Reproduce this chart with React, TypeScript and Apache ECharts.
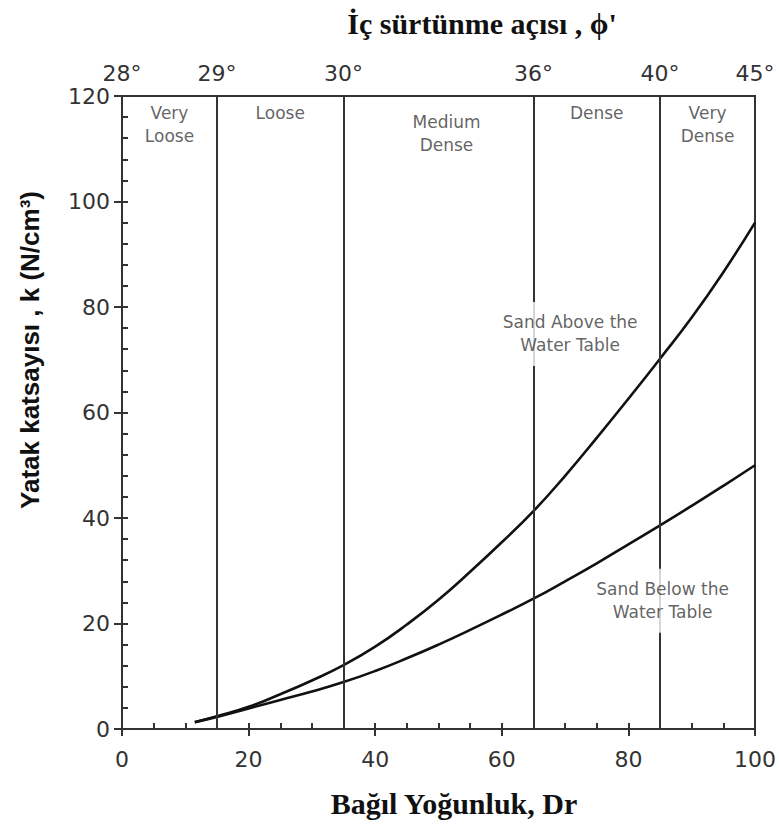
import React, { useEffect, useRef } from "react";
import * as echarts from "echarts";

// Relative density Dr (%) at which the curves were read
const dr = [11.5, 15, 20, 25, 30, 35, 40, 45, 50, 55, 60, 65, 70, 75, 80, 85, 90, 95, 100];
// Subgrade modulus k (N/cm3)
const kAbove = [1.3, 2.4, 4.2, 6.6, 9.2, 12.1, 15.6, 19.8, 24.5, 29.8, 35.4, 41.3, 48.0, 55.2, 62.6, 70.2, 78.0, 86.6, 96.0];
const kBelow = [1.3, 2.3, 3.9, 5.5, 7.1, 8.9, 11.0, 13.4, 16.0, 18.8, 21.7, 24.7, 28.0, 31.4, 35.0, 38.6, 42.3, 46.1, 50.0];

// Density class boundaries (Dr) and names
const zoneEdges = [0, 15, 35, 65, 85, 100];
const zoneNames = ["Very\nLoose", "Loose", "Medium\nDense", "Dense", "Very\nDense"];

// Friction angle labels on the top axis
const phiPositions = [0, 15, 35, 65, 85, 100];
const phiLabels = ["28°", "29°", "30°", "36°", "40°", "45°"];

// Curve annotations [Dr, k, text]
const curveNotes: [number, number, string][] = [
  [70.8, 74.9, "Sand Above the\nWater Table"],
  [85.4, 24.3, "Sand Below the\nWater Table"],
];

export default function App() {
  const ref = useRef<HTMLDivElement>(null);
  useEffect(() => {
    if (!ref.current) return;
    const chart = echarts.init(ref.current, undefined, { renderer: "svg" });
    const axisColor = "#333";
    const tickFont = { fontFamily: "DejaVu Sans", fontSize: 22, color: "#333" };
    const noteFont = { fontFamily: "DejaVu Sans", fontSize: 17, color: "#3a3a3a", lineHeight: 23 };
    const boundaries = zoneEdges.slice(1, -1);
    const zoneData = zoneNames.map((n, i) => ({
      value: [(zoneEdges[i] + zoneEdges[i + 1]) / 2, 120],
      name: n,
      label: i === 2 ? { offset: [8, 9] } : undefined,
    }));
    const lineCommon = {
      type: "line",
      showSymbol: false,
      smooth: 0.5,
      z: 3,
      lineStyle: { color: "#111", width: 2.6 },
    };
    chart.setOption({
      animation: false,
      grid: { left: 122, right: 24, top: 96, bottom: 98, show: true, borderColor: axisColor, borderWidth: 2, containLabel: false },
      xAxis: [
        {
          type: "value", min: 0, max: 100, interval: 20, position: "bottom",
          axisLine: { show: true, lineStyle: { color: axisColor, width: 2 } },
          axisTick: { show: true, inside: false, length: 7, lineStyle: { color: axisColor, width: 2 } },
          axisLabel: { ...tickFont, margin: 19 },
          splitLine: { show: false },
        },
        {
          type: "value", min: 0, max: 100, interval: 5, position: "bottom",
          axisLine: { show: false },
          axisTick: { show: true, inside: true, length: 6, lineStyle: { color: axisColor, width: 2 } },
          axisLabel: { show: false },
          splitLine: { show: false },
        },
        {
          type: "value", min: 0, max: 100, position: "top",
          axisLine: { show: true, lineStyle: { color: axisColor, width: 2 } },
          axisTick: { show: false },
          axisLabel: {
            ...tickFont,
            margin: 12,
            customValues: phiPositions,
            formatter: (v: number) => phiLabels[phiPositions.indexOf(v)] ?? "",
          },
          splitLine: { show: false },
        },
      ],
      yAxis: [
        {
          type: "value", min: 0, max: 120, interval: 20, position: "left",
          axisLine: { show: true, lineStyle: { color: axisColor, width: 2 } },
          axisTick: { show: true, inside: false, length: 8, lineStyle: { color: axisColor, width: 2 } },
          axisLabel: { ...tickFont, margin: 12 },
          splitLine: { show: false },
        },
        {
          type: "value", min: 0, max: 120, interval: 4, position: "left",
          axisLine: { show: false },
          axisTick: { show: true, inside: true, length: 6, lineStyle: { color: axisColor, width: 2 } },
          axisLabel: { show: false },
          splitLine: { show: false },
        },
      ],
      series: [
        {
          ...lineCommon,
          name: "Sand Above the Water Table",
          data: dr.map((x, i) => [x, kAbove[i]]),
          markLine: {
            silent: true, symbol: "none", label: { show: false },
            lineStyle: { color: axisColor, width: 2, type: "solid" },
            data: boundaries.map((b) => ({ xAxis: b })),
          },
        },
        {
          ...lineCommon,
          name: "Sand Below the Water Table",
          data: dr.map((x, i) => [x, kBelow[i]]),
        },
        {
          type: "scatter", name: "zones", symbolSize: 0, z: 5, silent: true,
          data: zoneData,
          label: { show: true, position: "bottom", distance: 5, formatter: "{b}", align: "center", ...noteFont },
        },
        {
          type: "scatter", name: "notes", symbolSize: 0, z: 6, silent: true,
          data: curveNotes.map(([x, y, t]) => ({ value: [x, y], name: t })),
          label: {
            show: true, position: "inside", formatter: "{b}", align: "center",
            backgroundColor: "#fff", padding: [9, 2],
            ...noteFont,
          },
        },
      ],
      graphic: [
        {
          type: "text", x: 482, y: 23,
          style: { text: "İç sürtünme açısı , ϕ'", fontFamily: "Liberation Serif", fontWeight: "bold", fontSize: 30, fill: "#111", align: "center", verticalAlign: "middle" },
        },
        {
          type: "text", x: 454, y: 803,
          style: { text: "Bağıl Yoğunluk, Dr", fontFamily: "Liberation Serif", fontWeight: "bold", fontSize: 30, fill: "#111", align: "center", verticalAlign: "middle" },
        },
        {
          type: "text", x: 30, y: 350, rotation: Math.PI / 2,
          style: { text: "Yatak katsayısı , k (N/cm³)", fontFamily: "Liberation Sans", fontWeight: "bold", fontSize: 26, fill: "#111", align: "center", verticalAlign: "middle" },
        },
      ],
    });
    return () => chart.dispose();
  }, []);
  return <div ref={ref} style={{ position: "absolute", left: 0, top: 0, width: 779, height: 827 }} />;
}
